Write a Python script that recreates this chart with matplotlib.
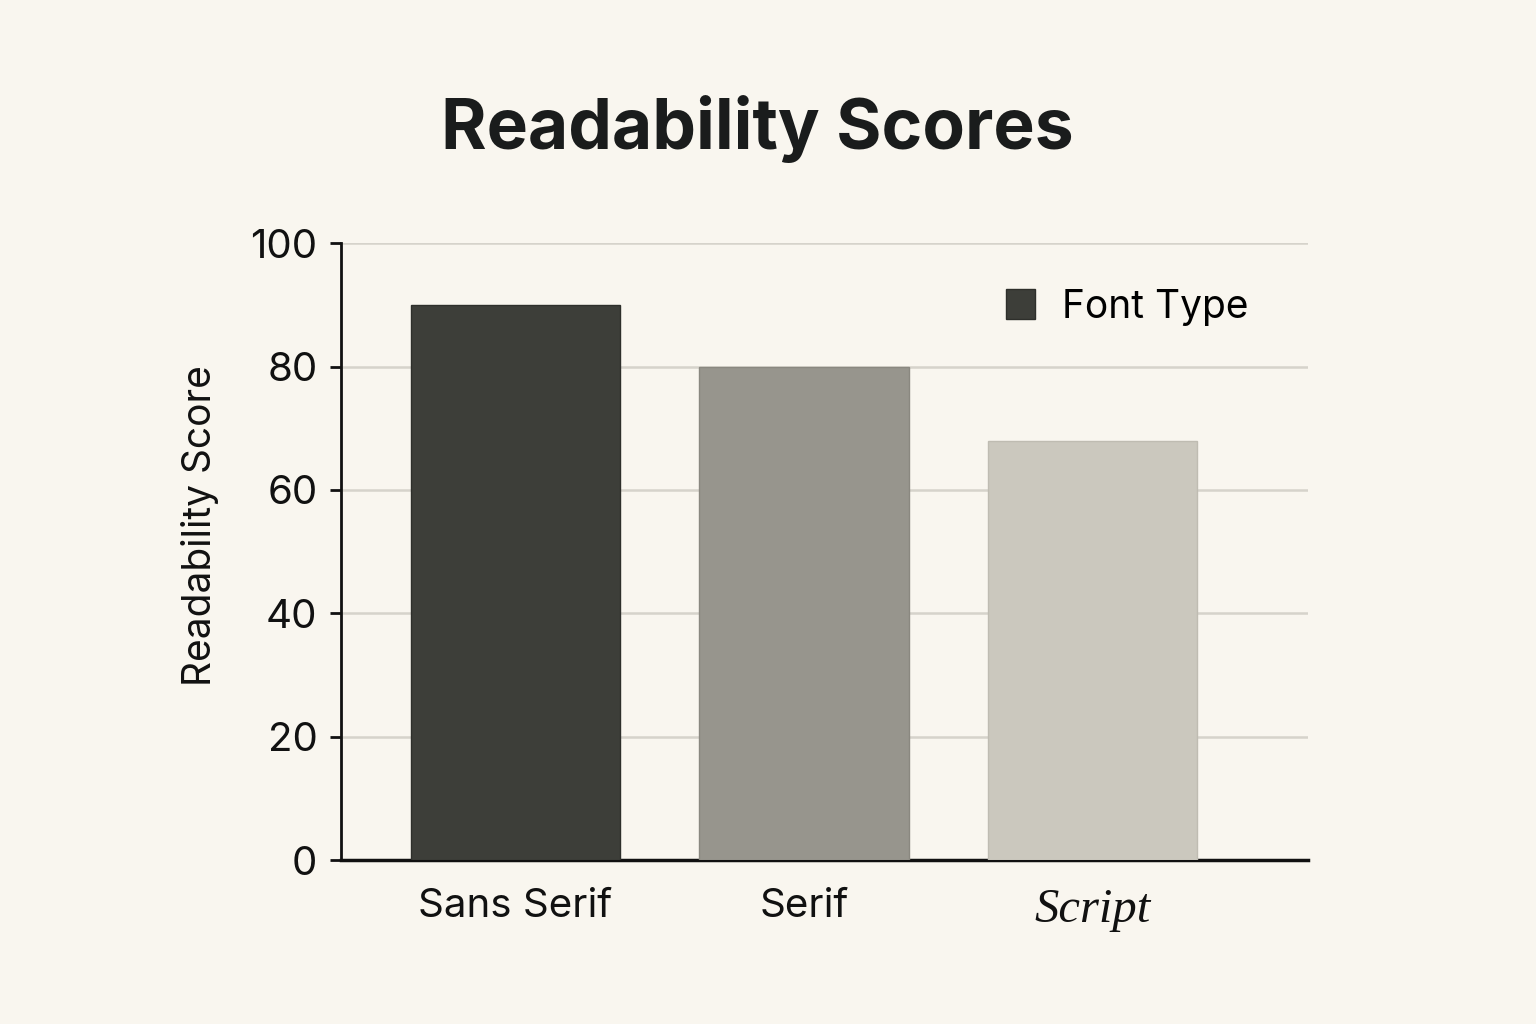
import matplotlib
matplotlib.use("Agg")
import matplotlib.pyplot as plt
from matplotlib.patches import Patch

categories = ["Sans Serif", "Serif", "Script"]
scores = [90, 80, 68]
bar_colors = ["#3d3e39", "#97958d", "#cbc8be"]
yticks = [0, 20, 40, 60, 80, 100]

bg = "#f9f6ef"
plt.rcParams["font.family"] = ["Inter", "DejaVu Sans"]

fig = plt.figure(figsize=(15.36, 10.24), dpi=100, facecolor=bg)
ax = fig.add_axes([0.222, 0.160, 0.6295, 0.6025])
ax.set_facecolor(bg)

x = range(len(categories))
ax.bar(x, scores, width=0.725, color=bar_colors, edgecolor=["#2e2f2b", "#8a8880", "#bfbcb2"],
       linewidth=1, zorder=3)

ax.set_xlim(-0.604, 2.745)
ax.set_ylim(0, 100)
ax.set_yticks(yticks)
ax.tick_params(axis="y", labelsize=29, length=8, width=2, pad=9, colors="#111111")
ax.set_xticks(list(x))
ax.set_xticklabels(categories, fontsize=29, color="#111111")
ax.tick_params(axis="x", length=0, pad=20)
lab = ax.get_xticklabels()[2]
lab.set_family(["Liberation Serif", "DejaVu Serif"])
lab.set_style("italic")
lab.set_fontsize(35)

ax.yaxis.grid(True, color="#d6d3cb", linewidth=1.8, zorder=0)
for s in ["top", "right"]:
    ax.spines[s].set_visible(False)
ax.spines["left"].set_linewidth(2)
ax.spines["bottom"].set_linewidth(2.5)
ax.spines["left"].set_color("#111111")
ax.spines["bottom"].set_color("#111111")

ax.set_ylabel("Readability Score", fontsize=28, color="#111111")
ax.yaxis.set_label_coords(-0.126, 0.543)

leg = ax.legend(handles=[Patch(facecolor="#3d3e39", edgecolor="#2e2f2b", label="Font Type")],
                loc="upper right", bbox_to_anchor=(0.975, 0.983), frameon=False, fontsize=28,
                handlelength=0.75, handleheight=0.8, handletextpad=0.7)

fig.text(0.493, 0.874, "Readability Scores", fontsize=50, fontweight="bold",
         ha="center", va="center", color="#1a1c1c")

fig.savefig("out.png", dpi=100, facecolor=bg)
